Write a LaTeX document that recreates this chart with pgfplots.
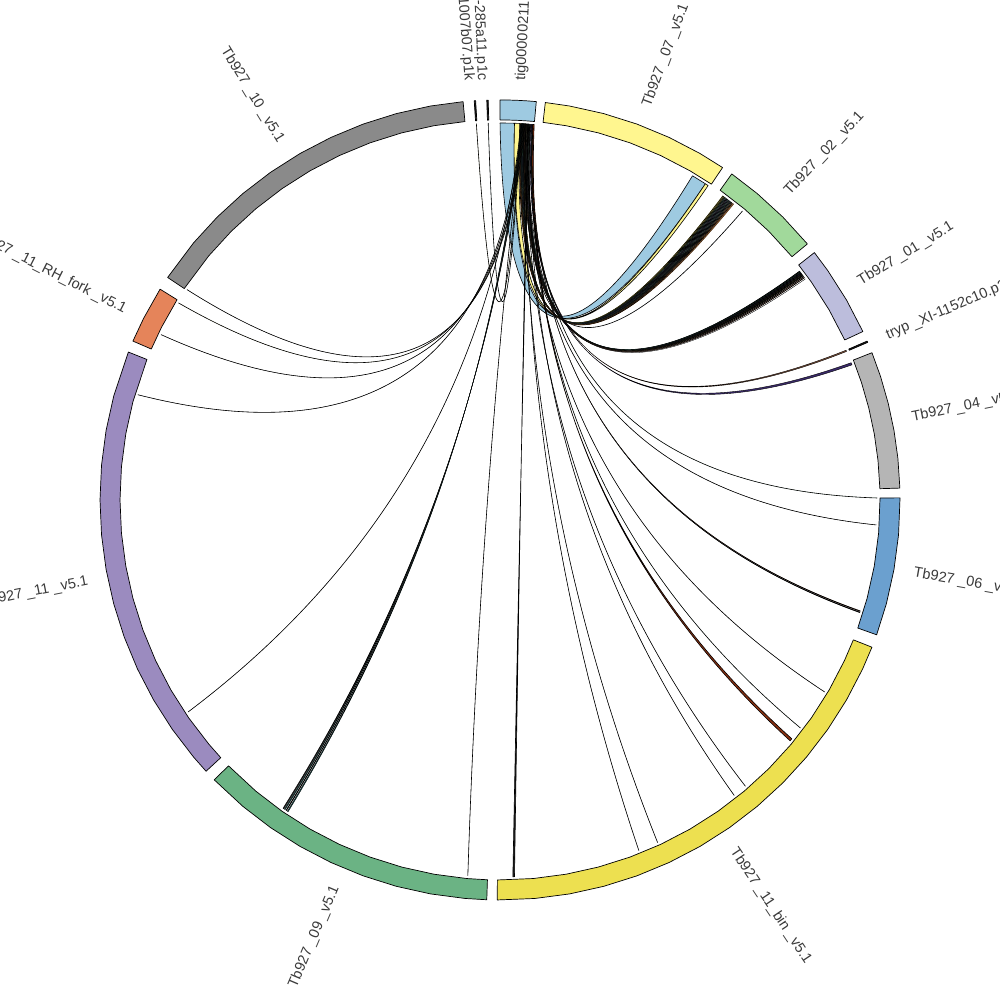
\documentclass[border=0pt]{standalone}
\usepackage{fontspec}
\setmainfont{Liberation Sans}
\usepackage{pgfplots}
\pgfplotsset{compat=1.18}
\definecolor{ctig}{HTML}{9ECAE1}
\definecolor{cvii}{HTML}{FFF68F}
\definecolor{cii}{HTML}{A1D99B}
\definecolor{ci}{HTML}{BCBDDC}
\definecolor{civ}{HTML}{B5B5B5}
\definecolor{cvi}{HTML}{6BA0CF}
\definecolor{cbin}{HTML}{EDE050}
\definecolor{cix}{HTML}{6BB384}
\definecolor{cxi}{HTML}{9B8BBF}
\definecolor{crh}{HTML}{E5845A}
\definecolor{cx}{HTML}{8A8A8A}
\definecolor{dk}{HTML}{202020}
\definecolor{dkt}{HTML}{1F5A5A}
\definecolor{dkp}{HTML}{3A2A6A}
\definecolor{br}{HTML}{8B5A40}
\definecolor{rust}{HTML}{8A3010}
\definecolor{ol}{HTML}{6A6A20}
\definecolor{yl}{HTML}{D8C840}
\definecolor{orn}{HTML}{C87830}
\definecolor{gy}{HTML}{708090}
\definecolor{grn}{HTML}{3F7F5F}
\definecolor{lab}{HTML}{3A3A3A}
\makeatletter
\newcount\myq@state
\pgfdeclareplothandler{\myquadhandler}{}{%
  start={\global\myq@state=0\relax},
  point macro=\myq@pt}
\def\myq@pt#1{%
  \ifnum\myq@state=0
    \pgfpathmoveto{#1}\global\myq@state=1\relax
  \else\ifnum\myq@state=1
    \pgf@process{#1}\xdef\myq@cx{\the\pgf@x}\xdef\myq@cy{\the\pgf@y}\global\myq@state=2\relax
  \else
    \pgfpathquadraticcurveto{\pgfqpoint{\myq@cx}{\myq@cy}}{#1}\global\myq@state=1\relax
  \fi\fi}
\tikzset{quadlink/.code={\def\tikz@plot@handler{\myquadhandler}}}
\makeatother
\def\lw{.6pt}
% a ribbon: fill colour, two angles on tig (clockwise from the top), two angles on the other end
\newcommand\lnk[5]{%
  \pgfmathsetmacro\Aa{90-#2}\pgfmathsetmacro\Ab{90-#3}%
  \pgfmathsetmacro\Ba{90-#4}\pgfmathsetmacro\Bb{90-#5}%
  \pgfmathsetmacro\Cc{90-(#2+#3+#4+#5)/4}%
  \edef\tmp{\noexpand\addplot[quadlink,draw=black,line width=\lw,fill=#1,data cs=polar,line join=round]
    coordinates {(\Aa,377) (\Cc,20) (\Ba,377) (\Ba,377) (\Bb,377) (\Cc,20) (\Ab,377) (\Ab,377) (\Aa,377)};}\tmp}
% a ring segment: fill colour, list of angles clockwise from the top
\newcommand\ring[2]{%
  \gdef\co{}\gdef\ci{}%
  \foreach \t in {#2}{\pgfmathsetmacro\aa{90-\t}\xdef\co{\co (\aa,400) }\xdef\ci{(\aa,380) \ci}}%
  \edef\tmp{\noexpand\addplot[draw=black,line width=.7pt,fill=#1,data cs=polar,line join=round]
    coordinates {\co \ci} -- cycle;}\tmp}
\tikzset{lbl/.style={text=lab,font=\fontsize{14.5}{14.5}\selectfont,inner sep=0pt}}
% label on the right half (reads outward) and on the left half (reads inward)
\newcommand\labR[2]{\pgfmathsetmacro\ang{90-#1}%
  \edef\tmp{\noexpand\node[lbl,rotate=\ang,anchor=west] at ([shift={(\ang:420pt)}]axis cs:0,0) {\unexpanded{#2}};}\tmp}
\newcommand\labL[2]{\pgfmathsetmacro\ang{90-#1}\pgfmathsetmacro\rot{270-#1}%
  \edef\tmp{\noexpand\node[lbl,rotate=\rot,anchor=east] at ([shift={(\ang:420pt)}]axis cs:0,0) {\unexpanded{#2}};}\tmp}
\begin{document}
\begin{tikzpicture}
\useasboundingbox (0,0) rectangle (1000pt,1000pt);
\begin{axis}[at={(0,0)},anchor=south west,scale only axis,width=1000pt,height=1000pt,
  xmin=-500,xmax=500,ymin=-500,ymax=500,hide axis,clip=false]
\ring{ctig}{0,1.3,2.6,3.9,5.2}
\ring{cvii}{6.5,10,15,20,25,30,33.8}
\ring{cii}{35.4,40,45,50.2}
\ring{ci}{51.8,55,60,65.1}
\ring{dk}{66.6,66.8}
\ring{civ}{68.4,72,76,80,84,88.3}
\ring{cvi}{89.7,95,100,105,109.7}
\ring{cbin}{111.6,115,120,125,130,135,140,145,150,155,160,165,170,175,180.4}
\ring{cix}{181.9,185,190,195,200,205,210,215,220,225.6}
\ring{cxi}{227.3,230,235,240,245,250,255,260,265,270,275,280,285,291.7}
\ring{crh}{293.4,297,301.8}
\ring{cx}{303.8,310,315,320,325,330,335,340,345,350,354.7}
\ring{dk}{356.3,356.5}
\ring{dk}{358.1,358.3}
% tig to chr 07
\lnk{ctig}{0}{2.2}{33.0}{30.7}
\lnk{cvii}{2.2}{3.0}{33.5}{33.0}
% tig to chr 02
\def\lw{.2pt}
\lnk{yl}{3.92}{3.99}{36.20}{36.30}
\lnk{yl}{3.85}{3.92}{36.35}{36.45}
\lnk{ol}{3.79}{3.85}{36.50}{36.60}
\lnk{dkt}{3.72}{3.79}{36.65}{36.75}
\lnk{gy}{3.66}{3.72}{36.80}{36.90}
\lnk{dk}{3.59}{3.66}{36.95}{37.05}
\lnk{dkp}{3.53}{3.59}{37.10}{37.20}
\lnk{grn}{3.46}{3.53}{37.25}{37.35}
\lnk{gy}{3.40}{3.46}{37.40}{37.50}
\lnk{dk}{3.33}{3.40}{37.55}{37.65}
\lnk{dkt}{3.27}{3.33}{37.70}{37.80}
\lnk{orn}{3.20}{3.27}{37.85}{37.95}
\lnk{br}{3.13}{3.20}{38.00}{38.10}
\lnk{orn}{3.05}{3.13}{38.15}{38.30}
\def\lw{.6pt}
\lnk{gy}{4.7}{4.7}{40}{40}
% tig to chr 01
\def\lw{.25pt}
\lnk{dk}{4.60}{4.65}{52.60}{52.70}
\lnk{dkt}{4.50}{4.55}{52.72}{52.82}
\lnk{grn}{4.40}{4.45}{52.84}{52.94}
\lnk{dk}{4.30}{4.35}{52.96}{53.06}
\lnk{dkp}{4.20}{4.25}{53.08}{53.18}
\lnk{dk}{4.10}{4.15}{53.20}{53.30}
\lnk{ol}{4.00}{4.05}{53.32}{53.42}
\lnk{dk}{3.90}{3.95}{53.44}{53.54}
\lnk{br}{3.85}{3.88}{53.62}{53.72}
\lnk{br}{3.80}{3.83}{53.82}{53.90}
\lnk{dk}{3.75}{3.75}{54.1}{54.1}
% tig to tryp and chr 04, 06
\def\lw{.4pt}
\lnk{br}{5.00}{5.05}{66.6}{66.8}
\lnk{dkp}{4.75}{4.90}{68.65}{69.0}
\def\lw{.6pt}
\lnk{grn}{4.95}{4.95}{89.7}{89.7}
\lnk{dk}{4.30}{4.30}{93.8}{93.8}
\def\lw{.3pt}
\lnk{br}{5.10}{5.12}{107.1}{107.2}
\lnk{dk}{5.05}{5.07}{107.3}{107.4}
% tig to chr 11 bin
\def\lw{.6pt}
\lnk{dk}{4.2}{4.2}{120.6}{120.6}
\lnk{grn}{4.9}{4.9}{127.2}{127.2}
\lnk{rust}{5.0}{5.2}{129.3}{129.7}
\lnk{dk}{4.0}{4.0}{139.4}{139.4}
\lnk{dk}{4.5}{4.5}{141.6}{141.6}
\lnk{dk}{3.6}{3.6}{155.3}{155.3}
\lnk{dk}{3.9}{3.9}{158.4}{158.4}
\lnk{dk}{4.2}{4.35}{177.8}{178.05}
% tig to chr 09, 11, RH fork, 10
\lnk{dk}{3.4}{3.4}{-175.1}{-175.1}
\def\lw{.3pt}
\lnk{dkt}{3.30}{3.35}{-145.8}{-145.65}
\lnk{dk}{3.40}{3.45}{-145.5}{-145.4}
\lnk{dkt}{3.50}{3.55}{-145.25}{-145.1}
\lnk{dk}{3.60}{3.65}{-145.0}{-144.85}
\def\lw{.6pt}
\lnk{dk}{3.2}{3.2}{-124.2}{-124.2}
\lnk{dk}{3.3}{3.3}{-73.8}{-73.8}
\lnk{dk}{3.5}{3.5}{-64}{-64}
\lnk{ol}{3.7}{3.7}{-58.5}{-58.5}
\lnk{dk}{3.8}{3.8}{-56.1}{-56.1}
% tig to the two short contigs
\lnk{ol}{3.1}{3.1}{-3.6}{-3.6}
\lnk{dkt}{3.2}{3.2}{-1.8}{-1.8}
% labels
\labR{2.9}{tig00000211}
\labR{20.45}{Tb927 \_07 \_v5.1}
\labR{43.1}{Tb927 \_02 \_v5.1}
\labR{58.75}{Tb927 \_01 \_v5.1}
\labR{67}{tryp \_XI-1152c10.p2k}
\labR{78.65}{Tb927 \_04 \_v5.1}
\labR{100}{Tb927 \_06 \_v5.1}
\labR{146.3}{Tb927 \_11\_bin \_v5.1}
\labL{203.05}{Tb927 \_09 \_v5.1}
\labL{258.8}{Tb927 \_11 \_v5.1}
\labL{296.9}{Tb927 \_11\_RH\_fork \_v5.1}
\labL{328.55}{Tb927 \_10 \_v5.1}
\labL{355.7}{tryp \_XI-1007b07.p1k}
\labL{357.5}{tryp \_XI-285a11.p1c}
\end{axis}
\end{tikzpicture}
\end{document}
